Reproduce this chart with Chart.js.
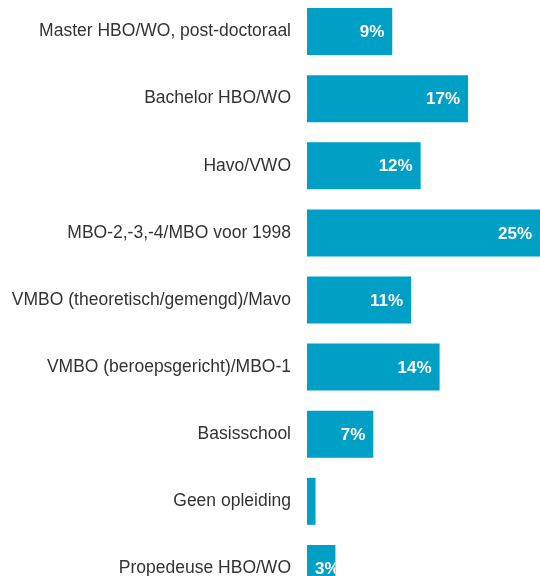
<!DOCTYPE html>
<html lang="nl">
<head>
    <meta charset="UTF-8">
    <title>Opleidingsniveau</title>
    <script src="https://cdn.jsdelivr.net/npm/chart.js"></script>
    <style>
        html, body { margin: 0; padding: 0; background: #fff; overflow: hidden; }
        #wrap { position: absolute; left: 0; top: -2px; width: 540px; height: 604px; }
    </style>
</head>
<body>
    <div id="wrap"><canvas id="niveauChart"></canvas></div>

    <script>
        const categories = [
            'Master HBO/WO, post-doctoraal',
            'Bachelor HBO/WO',
            'Havo/VWO',
            'MBO-2,-3,-4/MBO voor 1998',
            'VMBO (theoretisch/gemengd)/Mavo',
            'VMBO (beroepsgericht)/MBO-1',
            'Basisschool',
            'Geen opleiding',
            'Propedeuse HBO/WO'
        ];
        const percentages = [9, 17, 12, 25, 11, 14, 7, 0.9, 3];
        // labels die in de balk worden getoond (leeg = geen label)
        const valueLabels = ['9%', '17%', '12%', '25%', '11%', '14%', '7%', '', '3%'];

        const barLabels = {
            id: 'barLabels',
            afterDatasetsDraw(chart) {
                const ctx = chart.ctx;
                const meta = chart.getDatasetMeta(0);
                ctx.save();
                ctx.font = 'bold 17px "Liberation Sans", Arial, sans-serif';
                ctx.fillStyle = '#ffffff';
                ctx.textBaseline = 'middle';
                meta.data.forEach((bar, i) => {
                    const txt = valueLabels[i];
                    if (!txt) return;
                    const w = ctx.measureText(txt).width;
                    const start = bar.base;
                    const end = Math.min(bar.x, chart.chartArea.right);
                    const x = Math.max(end - 8 - w, start + 8);
                    ctx.save();
                    ctx.beginPath();
                    ctx.rect(start, bar.y - bar.height / 2, end - start, bar.height);
                    ctx.clip();
                    ctx.fillText(txt, x, bar.y + 1);
                    ctx.restore();
                });
                ctx.restore();
            }
        };

        new Chart(document.getElementById('niveauChart'), {
            type: 'bar',
            data: {
                labels: categories,
                datasets: [{
                    data: percentages,
                    backgroundColor: '#00a0c6',
                    borderWidth: 0,
                    categoryPercentage: 1,
                    barPercentage: 0.7
                }]
            },
            options: {
                indexAxis: 'y',
                responsive: true,
                maintainAspectRatio: false,
                animation: false,
                layout: { padding: 0 },
                plugins: {
                    legend: { display: false },
                    tooltip: { enabled: false }
                },
                scales: {
                    x: {
                        display: false,
                        min: 0,
                        max: 24.6
                    },
                    y: {
                        grid: { display: false, drawTicks: false },
                        border: { display: false },
                        ticks: {
                            padding: 16,
                            color: '#333333',
                            font: { family: '"Liberation Sans", Arial, sans-serif', size: 17.5 }
                        },
                        afterFit(scale) {
                            scale.width = 307;
                            scale.paddingTop = 0;
                            scale.paddingBottom = 0;
                        }
                    }
                }
            },
            plugins: [barLabels]
        });
    </script>
</body>
</html>
